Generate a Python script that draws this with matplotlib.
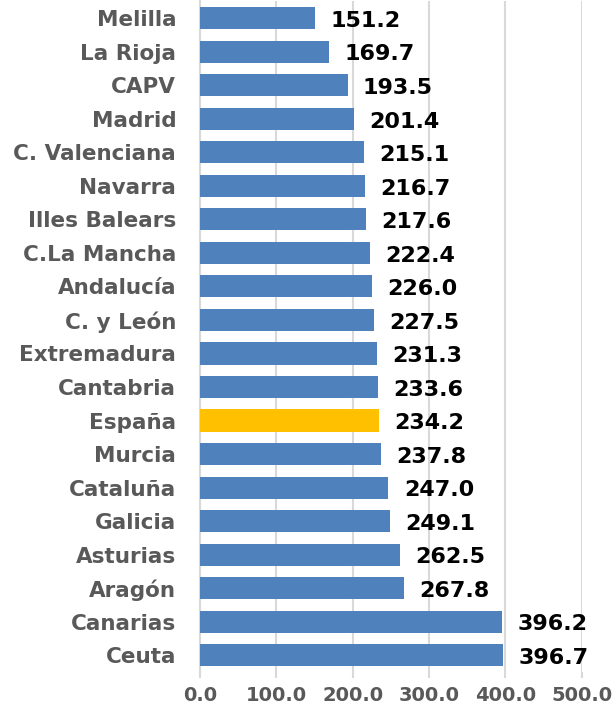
import matplotlib.pyplot as plt
import numpy as np

regions = [
    "Melilla", "La Rioja", "CAPV", "Madrid", "C. Valenciana", "Navarra",
    "Illes Balears", "C.La Mancha", "Andalucía", "C. y León", "Extremadura",
    "Cantabria", "España", "Murcia", "Cataluña", "Galicia", "Asturias",
    "Aragón", "Canarias", "Ceuta",
]
values = [
    151.2, 169.7, 193.5, 201.4, 215.1, 216.7, 217.6, 222.4, 226.0, 227.5,
    231.3, 233.6, 234.2, 237.8, 247.0, 249.1, 262.5, 267.8, 396.2, 396.7,
]
x_ticks = [0, 100, 200, 300, 400, 500]

blue = "#4F81BD"
gold = "#FFC000"
grid_grey = "#D9D9D9"
label_grey = "#595959"

plt.rcParams["font.family"] = ["DejaVu Sans"]

fig = plt.figure(figsize=(6.13, 7.10), dpi=100)
ax = fig.add_axes([0.326, 0.0535, 0.623, 0.9445])

y = np.arange(len(regions))
colors = [gold if r == "España" else blue for r in regions]
ax.barh(y, values, height=0.66, color=colors, zorder=3)

# value labels sit just right of each bar, slightly below centre
for yi, v in zip(y, values):
    ax.annotate(f"{v:.1f}", xy=(v, yi), xytext=(11, -2), textcoords="offset points",
                ha="left", va="center", fontsize=16, fontweight="bold", color="black")

ax.set_ylim(len(regions) - 0.5, -0.5)
ax.set_xlim(0, 500)
ax.set_yticks(y)
ax.set_yticklabels(regions, fontsize=15.5, fontweight="bold", color=label_grey)
ax.set_xticks(x_ticks)
ax.set_xticklabels([f"{t:.1f}" for t in x_ticks], fontsize=14, fontweight="bold",
                   color=label_grey)

ax.grid(axis="x", color=grid_grey, linewidth=1.5, zorder=0)
ax.tick_params(axis="y", length=0, pad=17)
ax.tick_params(axis="x", length=4, width=1.5, color=grid_grey, pad=6)
for side in ["top", "right", "bottom"]:
    ax.spines[side].set_visible(False)
ax.spines["left"].set_color(grid_grey)
ax.spines["left"].set_linewidth(1.5)

fig.savefig("out.png", dpi=100)
